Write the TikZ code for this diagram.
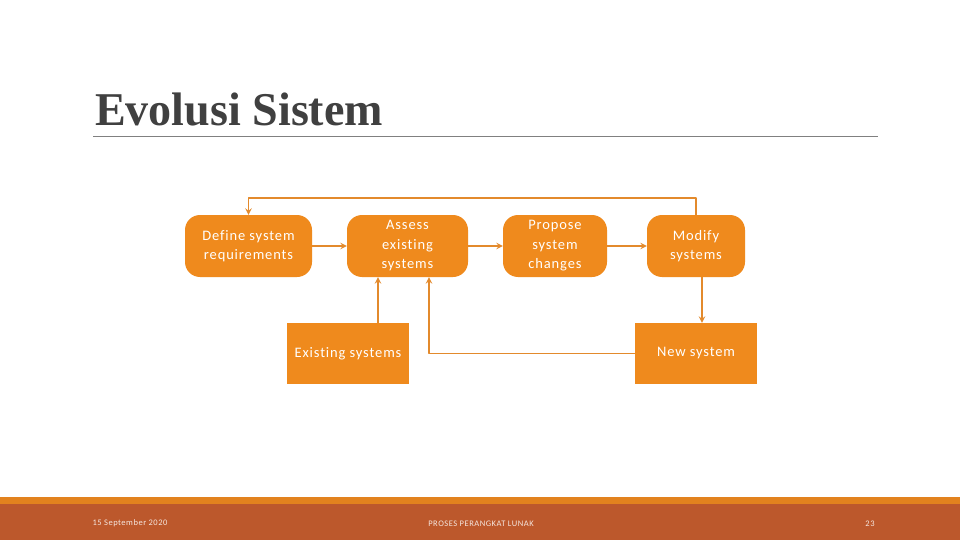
\documentclass[tikz,border=0pt]{standalone}
\usepackage{fontspec}
\setmainfont{Carlito}[Ligatures=NoCommon,LetterSpace=6]
\newfontfamily\titlefont{Liberation Serif}
\definecolor{boxorange}{HTML}{EF8A1D}
\definecolor{lineorange}{HTML}{E38A2C}
\definecolor{stripe}{HTML}{E2821E}
\definecolor{band}{HTML}{BC582C}
\definecolor{titlegray}{HTML}{404040}
\begin{document}
\begin{tikzpicture}[x=1pt,y=-1pt,>=stealth,line join=round,
	stage/.style={fill=boxorange,rounded corners=15pt,text=white,align=center,inner sep=0pt,
		minimum height=62pt,font=\fontsize{14.5}{19.5}\selectfont},
	sysbox/.style={fill=boxorange,text=white,align=center,inner sep=0pt,
		minimum width=122pt,minimum height=61pt,font=\fontsize{14.5}{19.5}\selectfont},
	flow/.style={draw=lineorange,line width=1.8pt,->},
	foot/.style={text=white!85!band,font=\fontsize{8.5}{10}\selectfont}]
	\useasboundingbox (0,0) rectangle (960,540);
	\fill[white] (0,0) rectangle (960,540);
	\node[anchor=base west,text=titlegray,font=\titlefont\bfseries\fontsize{47}{50}\selectfont,inner sep=0pt,xscale=0.98] (title) at (95,126) {Evolusi Sistem};
	\draw[gray,line width=0.8pt] (93,136.5) -- (878,136.5);
	\node[stage,minimum width=127pt] (def) at (248.5,246) {Define system\\requirements};
	\node[stage,minimum width=121pt] (ass) at (407.5,246) {Assess\\existing\\systems};
	\node[stage,minimum width=104pt] (prop) at (555,246) {Propose\\system\\changes};
	\node[stage,minimum width=98pt] (mod) at (696,246) {Modify\\systems};
	\node[sysbox] (exist) at (348,353.5) {Existing systems};
	\node[sysbox] (new) at (696,353.5) {New system};
	\draw[flow] (def) -- (ass);
	\draw[flow] (ass) -- (prop);
	\draw[flow] (prop) -- (mod);
	\draw[flow] (mod.north) -- ++(0,-17) -| (def.north);
	\draw[flow] ([xshift=6pt]mod.south) -- ([xshift=6pt]new.north);
	\draw[flow] ([xshift=30pt]exist.north) -- ([xshift=30pt]exist.north |- ass.south);
	\draw[flow] (new.west) -| ([xshift=21.5pt]ass.south);
	\fill[stripe] (0,497) rectangle (960,503.5);
	\fill[band] (0,503.5) rectangle (960,540);
	\node[foot] (date) at (130,523.5) {15 September 2020};
	\node[foot] (course) at (481,523.5) {PROSES PERANGKAT LUNAK};
	\node[foot] (page) at (870,523.5) {23};
\end{tikzpicture}
\end{document}
